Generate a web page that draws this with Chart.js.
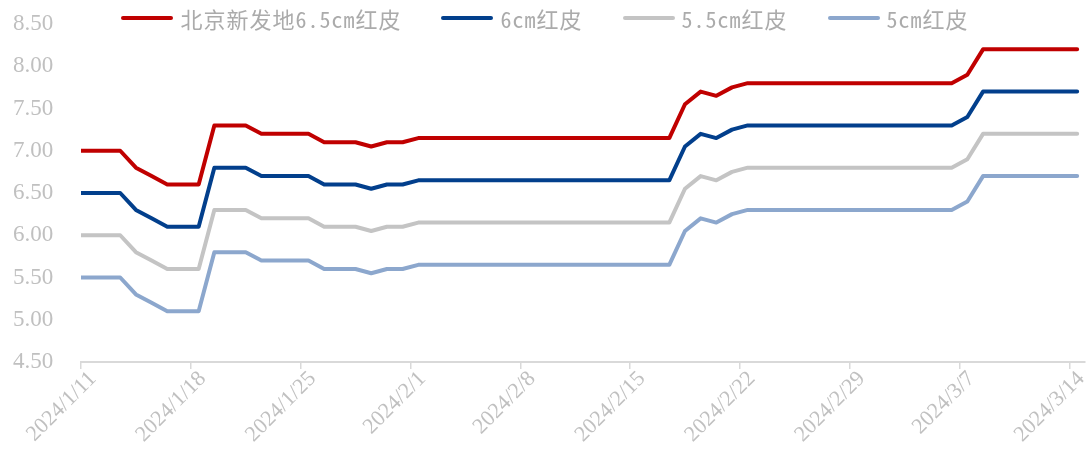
<!DOCTYPE html>
<html>
<head>
<meta charset="utf-8">
<script src="https://cdn.jsdelivr.net/npm/chart.js@4.4.1/dist/chart.umd.min.js"></script>
<style>
  body { margin: 0; background: #fff; }
  #wrap { position: relative; width: 1090px; height: 464px; }
  #legend {
    position: absolute; top: 0; left: 0; width: 1090px; height: 36px;
    display: flex; justify-content: center; align-items: center;
  }
  .item { display: flex; align-items: center; margin: 0 20px; }
  .swatch { width: 52px; height: 4px; border-radius: 2px; margin-right: 7px; }
  .label {
    font-family: "Noto Sans Mono CJK SC", "Noto Sans CJK SC", sans-serif;
    font-size: 22px; letter-spacing: 1px; color: #ababab;
  }
</style>
</head>
<body>
<div id="wrap">
  <canvas id="chart" width="1090" height="464"></canvas>
  <div id="legend"></div>
</div>
<script>
// daily prices, first entry is 2024/1/10, last is 2024/3/14
const beijing65 = [7.0, 7.0, 7.0, 7.0, 6.8, 6.7, 6.6, 6.6, 6.6, 7.3, 7.3, 7.3,
    7.2, 7.2, 7.2, 7.2, 7.1, 7.1, 7.1, 7.05, 7.1, 7.1,
    7.15, 7.15, 7.15, 7.15, 7.15, 7.15, 7.15, 7.15, 7.15, 7.15, 7.15, 7.15, 7.15, 7.15, 7.15, 7.15, 7.15,
    7.55, 7.7, 7.65, 7.75,
    7.8, 7.8, 7.8, 7.8, 7.8, 7.8, 7.8, 7.8, 7.8, 7.8, 7.8, 7.8, 7.8, 7.8,
    7.9, 8.2, 8.2, 8.2, 8.2, 8.2, 8.2, 8.2];
const red6 = [6.5, 6.5, 6.5, 6.5, 6.3, 6.2, 6.1, 6.1, 6.1, 6.8, 6.8, 6.8,
    6.7, 6.7, 6.7, 6.7, 6.6, 6.6, 6.6, 6.55, 6.6, 6.6,
    6.65, 6.65, 6.65, 6.65, 6.65, 6.65, 6.65, 6.65, 6.65, 6.65, 6.65, 6.65, 6.65, 6.65, 6.65, 6.65, 6.65,
    7.05, 7.2, 7.15, 7.25,
    7.3, 7.3, 7.3, 7.3, 7.3, 7.3, 7.3, 7.3, 7.3, 7.3, 7.3, 7.3, 7.3, 7.3,
    7.4, 7.7, 7.7, 7.7, 7.7, 7.7, 7.7, 7.7];
const red55 = [6.0, 6.0, 6.0, 6.0, 5.8, 5.7, 5.6, 5.6, 5.6, 6.3, 6.3, 6.3,
    6.2, 6.2, 6.2, 6.2, 6.1, 6.1, 6.1, 6.05, 6.1, 6.1,
    6.15, 6.15, 6.15, 6.15, 6.15, 6.15, 6.15, 6.15, 6.15, 6.15, 6.15, 6.15, 6.15, 6.15, 6.15, 6.15, 6.15,
    6.55, 6.7, 6.65, 6.75,
    6.8, 6.8, 6.8, 6.8, 6.8, 6.8, 6.8, 6.8, 6.8, 6.8, 6.8, 6.8, 6.8, 6.8,
    6.9, 7.2, 7.2, 7.2, 7.2, 7.2, 7.2, 7.2];
const red5 = [5.5, 5.5, 5.5, 5.5, 5.3, 5.2, 5.1, 5.1, 5.1, 5.8, 5.8, 5.8,
    5.7, 5.7, 5.7, 5.7, 5.6, 5.6, 5.6, 5.55, 5.6, 5.6,
    5.65, 5.65, 5.65, 5.65, 5.65, 5.65, 5.65, 5.65, 5.65, 5.65, 5.65, 5.65, 5.65, 5.65, 5.65, 5.65, 5.65,
    6.05, 6.2, 6.15, 6.25,
    6.3, 6.3, 6.3, 6.3, 6.3, 6.3, 6.3, 6.3, 6.3, 6.3, 6.3, 6.3, 6.3, 6.3,
    6.4, 6.7, 6.7, 6.7, 6.7, 6.7, 6.7, 6.7];

const seriesNames = ['北京新发地6.5cm红皮', '6cm红皮', '5.5cm红皮', '5cm红皮'];
const seriesColors = ['#c00000', '#023f8c', '#c4c4c4', '#8ca7cd'];
const tickLabels = ['2024/1/11', '2024/1/18', '2024/1/25', '2024/2/1', '2024/2/8',
    '2024/2/15', '2024/2/22', '2024/2/29', '2024/3/7', '2024/3/14'];

const toPoints = arr => arr.map((v, i) => ({ x: i, y: v }));

const chart = new Chart(document.getElementById('chart'), {
    type: 'line',
    data: {
        datasets: [beijing65, red6, red55, red5].map((arr, i) => ({
            label: seriesNames[i],
            data: toPoints(arr),
            borderColor: seriesColors[i],
            backgroundColor: seriesColors[i],
            borderWidth: 4,
            pointRadius: 0,
            tension: 0,
            borderJoinStyle: 'round',
            borderCapStyle: 'round',
            clip: { left: 0, right: 5, top: 5, bottom: 5 }
        }))
    },
    options: {
        responsive: false,
        animation: false,
        devicePixelRatio: 1,
        layout: { padding: { left: 13, right: 5, top: 24, bottom: 0 } },
        plugins: { legend: { display: false }, tooltip: { enabled: false } },
        scales: {
            x: {
                type: 'linear',
                min: 0.5,
                max: 64.5,
                afterBuildTicks: s => { s.ticks = tickLabels.map((_, k) => ({ value: 0.5 + 7 * k })); },
                afterFit: s => { s.height = 102; },
                grid: { display: true, drawOnChartArea: false, drawTicks: true, tickLength: 7, color: '#d9d9d9', lineWidth: 1.5 },
                border: { display: true, color: '#d9d9d9', width: 2 },
                ticks: {
                    autoSkip: false,
                    minRotation: 45,
                    maxRotation: 45,
                    labelOffset: 12,
                    padding: -3,
                    color: '#c0c0c0',
                    font: { family: 'Liberation Serif', size: 22 },
                    callback: (v, i) => tickLabels[i]
                }
            },
            y: {
                min: 4.5,
                max: 8.5,
                afterFit: s => { s.width = 68; },
                grid: { display: false, drawTicks: false },
                border: { display: false },
                ticks: {
                    stepSize: 0.5,
                    padding: 0,
                    crossAlign: 'far',
                    color: '#c0c0c0',
                    font: { family: 'Liberation Serif', size: 23 },
                    callback: v => v.toFixed(2)
                }
            }
        }
    }
});

// html legend built from the datasets
const legend = document.getElementById('legend');
chart.data.datasets.forEach(ds => {
    const item = document.createElement('div');
    item.className = 'item';
    const sw = document.createElement('span');
    sw.className = 'swatch';
    sw.style.background = ds.borderColor;
    const tx = document.createElement('span');
    tx.className = 'label';
    tx.textContent = ds.label;
    item.appendChild(sw);
    item.appendChild(tx);
    legend.appendChild(item);
});
</script>
</body>
</html>
